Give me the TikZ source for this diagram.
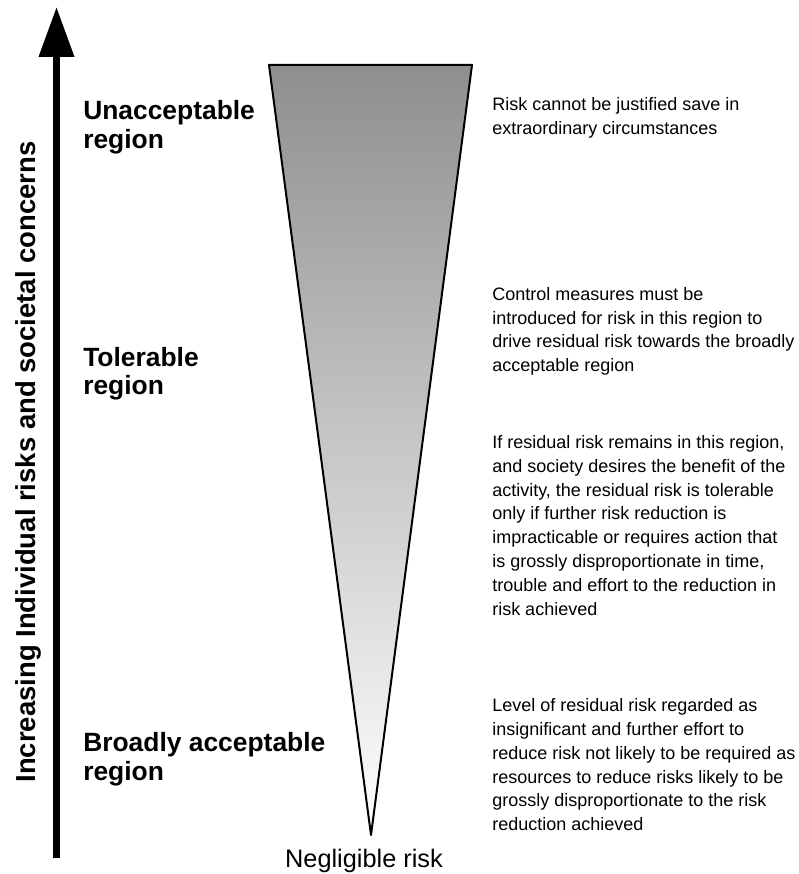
\documentclass[tikz,border=0pt]{standalone}
\usepackage{fontspec}
\setmainfont{Liberation Sans}
\usepackage{tikz}
\usetikzlibrary{arrows.meta,positioning}
\definecolor{topgray}{RGB}{143,143,143}
\tikzstyle{region} = [font=\fontsize{19.8}{21.3}\selectfont\bfseries, align=left, anchor=base west, inner sep=0pt]
\tikzstyle{note} = [font=\fontsize{13.5}{17.85}\selectfont, align=left, anchor=base west, inner sep=0pt]
\tikzstyle{corner} = [coordinate]

\begin{document}
\begin{tikzpicture}[x=0.75pt, y=-0.75pt, >={Triangle[length=37.5pt,width=25.5pt]}]
\useasboundingbox (0,0) rectangle (799,874);

\node [corner] (topleft) at (269,65) {};
\node [corner] (topright) at (472,65) {};
\node [corner] (tip) at (371,835) {};
\shade [draw, line width=1.5pt, line join=round, top color=topgray, bottom color=white] (topleft) -- (topright) -- (tip) -- cycle;

\node [corner] (axisbottom) at (56.5,858) {};
\node [corner] (axistop) at (56.5,7) {};
\draw [->, line width=5.25pt] (axisbottom) -- (axistop);
\node [rotate=90, anchor=base, inner sep=0pt, font=\fontsize{20.6}{22}\selectfont\bfseries] (axislabel) at (35,462) {Increasing Individual risks and societal concerns};

\node [region] (unacceptable) at (83,148) {Unacceptable\\region};
\node [region] (tolerable) at (83,394.5) {Tolerable\\region};
\node [region] (broadly) at (83,780) {Broadly acceptable\\region};

\node [note] (unaccnote) at (492,134.3) {Risk cannot be justified save in\\extraordinary circumstances};
\node [note] (controlnote) at (492,371.7) {Control measures must be\\introduced for risk in this region to\\drive residual risk towards the broadly\\acceptable region};
\node [note] (tolnote) at (492,615) {If residual risk remains in this region,\\and society desires the benefit of the\\activity, the residual risk is tolerable\\only if further risk reduction is\\impracticable or requires action that\\is grossly disproportionate in time,\\trouble and effort to the reduction in\\risk achieved};
\node [note] (broadnote) at (492,830.7) {Level of residual risk regarded as\\insignificant and further effort to\\reduce risk not likely to be required as\\resources to reduce risks likely to be\\grossly disproportionate to the risk\\reduction achieved};

\node [anchor=base, inner sep=0pt, font=\fontsize{19}{22}\selectfont] (negligible) at (364,867) {Negligible risk};

\end{tikzpicture}
\end{document}
